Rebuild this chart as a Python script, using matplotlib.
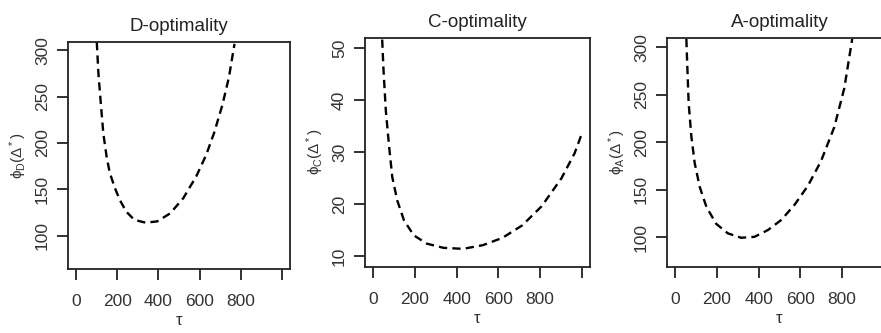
import numpy as np
import matplotlib
matplotlib.use("Agg")
import matplotlib.pyplot as plt

plt.rcParams['font.family'] = ['Liberation Sans', 'DejaVu Sans']
plt.rcParams['mathtext.fontset'] = 'custom'
plt.rcParams['mathtext.rm'] = 'Liberation Sans'
plt.rcParams['mathtext.it'] = 'Liberation Sans'

# values
tau_d = [100, 108, 121, 132, 148, 163, 187, 211, 243, 283, 338, 394,
         457, 521, 584, 632, 671, 711, 743, 770]
phi_d = [309, 275, 239, 210, 185, 168, 152, 139, 126, 117, 114, 115.4,
         124, 140.5, 164, 187, 211, 241, 271, 307]

tau_c = [42.5, 49, 60, 76, 91, 115, 147, 194, 257, 336, 430, 525,
         619, 714, 808, 903, 966, 1000]
phi_c = [51.7, 45.7, 38, 31, 25.2, 20.7, 16.9, 14, 12.4, 11.6, 11.4, 12.1,
         13.5, 15.9, 19.6, 25, 29.8, 33.5]

tau_a = [53, 57, 64, 77, 93, 117, 149, 196, 252, 316, 380, 444,
         508, 572, 636, 699, 763, 811, 849]
phi_a = [309, 283, 241, 206, 178, 153, 132, 114, 104, 99.3, 100.3, 107.4,
         118, 134, 154, 180, 216, 257, 309]

titles = ["D-optimality", "C-optimality", "A-optimality"]
ylabels = [r"$\phi_D(\Delta^*)$", r"$\phi_C(\Delta^*)$", r"$\phi_A(\Delta^*)$"]
xticks = [0, 200, 400, 600, 800, 1000]
xticklabels = ["0", "200", "400", "600", "800", ""]
yticks = [[100, 150, 200, 250, 300], [10, 20, 30, 40, 50], [100, 150, 200, 250, 300]]
ylims = [(64, 309), (8, 52), (69, 310)]

W, H = 881, 333
fig = plt.figure(figsize=(W / 100, H / 100), dpi=100)

# axes boxes in pixels: left, right, top, bottom
boxes = [(68, 290, 42, 269), (365, 590, 38, 266.5), (667, 892, 38, 266.5)]
data = [(tau_d, phi_d), (tau_c, phi_c), (tau_a, phi_a)]

for i, (l, r, t, b) in enumerate(boxes):
    ax = fig.add_axes([l / W, 1 - b / H, (r - l) / W, (b - t) / H])
    x, y = data[i]
    ax.plot(x, y, color="black", lw=1.7, linestyle=(0, (3.5, 2.2)))
    ax.set_xlim(-40, 1040)
    ax.set_ylim(*ylims[i])
    ax.set_xticks(xticks)
    ax.set_xticklabels(xticklabels)
    ax.set_yticks(yticks[i])
    ax.tick_params(axis="both", direction="out", length=8, width=1.3,
                   labelsize=12.5, color="#222222", labelcolor="#333333")
    ax.tick_params(axis="x", pad=10)
    ax.tick_params(axis="y", pad=5, labelrotation=90)
    for lab in ax.get_yticklabels():
        lab.set_va("center")
    for s in ax.spines.values():
        s.set_linewidth(1.3)
        s.set_color("#222222")
    ax.set_title(titles[i], fontsize=13.5, pad=8, color="#222222")
    ax.set_xlabel("τ", fontsize=12, labelpad=3, color="#333333")
    ax.set_ylabel(ylabels[i], fontsize=11, labelpad=4, color="#333333")

fig.savefig("out.png", dpi=100)
